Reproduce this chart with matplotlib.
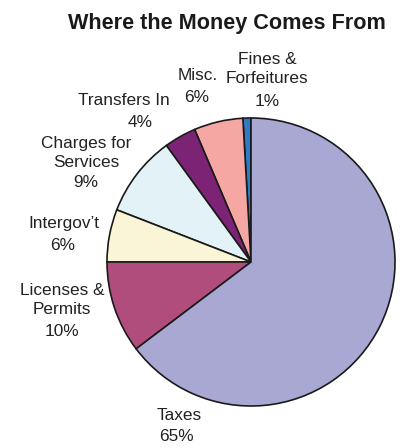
import matplotlib
matplotlib.use("Agg")
import matplotlib.pyplot as plt

# Data (counterclockwise from 12 o'clock)
categories = ["Fines &\nForfeitures", "Misc.", "Transfers In", "Charges for\nServices",
              "Intergov\u2019t", "Licenses &\nPermits", "Taxes"]
values = [0.9, 5.5, 3.6, 9.1, 5.9, 10.3, 64.7]
pct_labels = ["1%", "6%", "4%", "9%", "6%", "10%", "65%"]
colors = ["#2E7BC4", "#F4A7A3", "#7D2375", "#E3F2F6", "#FAF5D7", "#B04D7D", "#A9A8D3"]

# label anchor positions in units of the pie radius (name block center, pct center)
name_pos = [(0.111, 1.339), (-0.372, 1.292), (-0.882, 1.125), (-1.142, 0.758),
            (-1.297, 0.269), (-1.311, -0.262), (-0.50, -1.069)]
pct_pos = [(0.111, 1.113), (-0.377, 1.144), (-0.771, 0.967), (-1.146, 0.551),
           (-1.309, 0.113), (-1.313, -0.484), (-0.516, -1.213)]

FAM = ["Liberation Sans", "DejaVu Sans"]

W, H = 406, 448
fig = plt.figure(figsize=(W / 100, H / 100), dpi=100)
fig.patch.set_facecolor("white")

cx, cy, r = 251, 262, 144
ax = fig.add_axes([(cx - r) / W, (H - cy - r) / H, 2 * r / W, 2 * r / H])
ax.pie(values, colors=colors, startangle=90, counterclock=True,
       wedgeprops=dict(edgecolor="#1a1a1a", linewidth=1.2))
ax.set_xlim(-1, 1)
ax.set_ylim(-1, 1)
ax.set_aspect("equal")
ax.axis("off")

fs = 12.4
for i, (name, pct) in enumerate(zip(categories, pct_labels)):
    nx, ny = name_pos[i]
    px, py = pct_pos[i]
    ax.text(nx, ny, name, ha="center", va="center", fontsize=fs,
            family=FAM, color="#222222", linespacing=1.3, clip_on=False)
    ax.text(px, py, pct, ha="center", va="center", fontsize=fs,
            family=FAM, color="#222222", clip_on=False)

fig.text(226.5 / W, 1 - 23 / H, "Where the Money Comes From", ha="center", va="center",
         fontsize=15.6, fontweight="bold", family=FAM, color="#1a1a1a")

fig.savefig("out.png", dpi=100, facecolor="white")
